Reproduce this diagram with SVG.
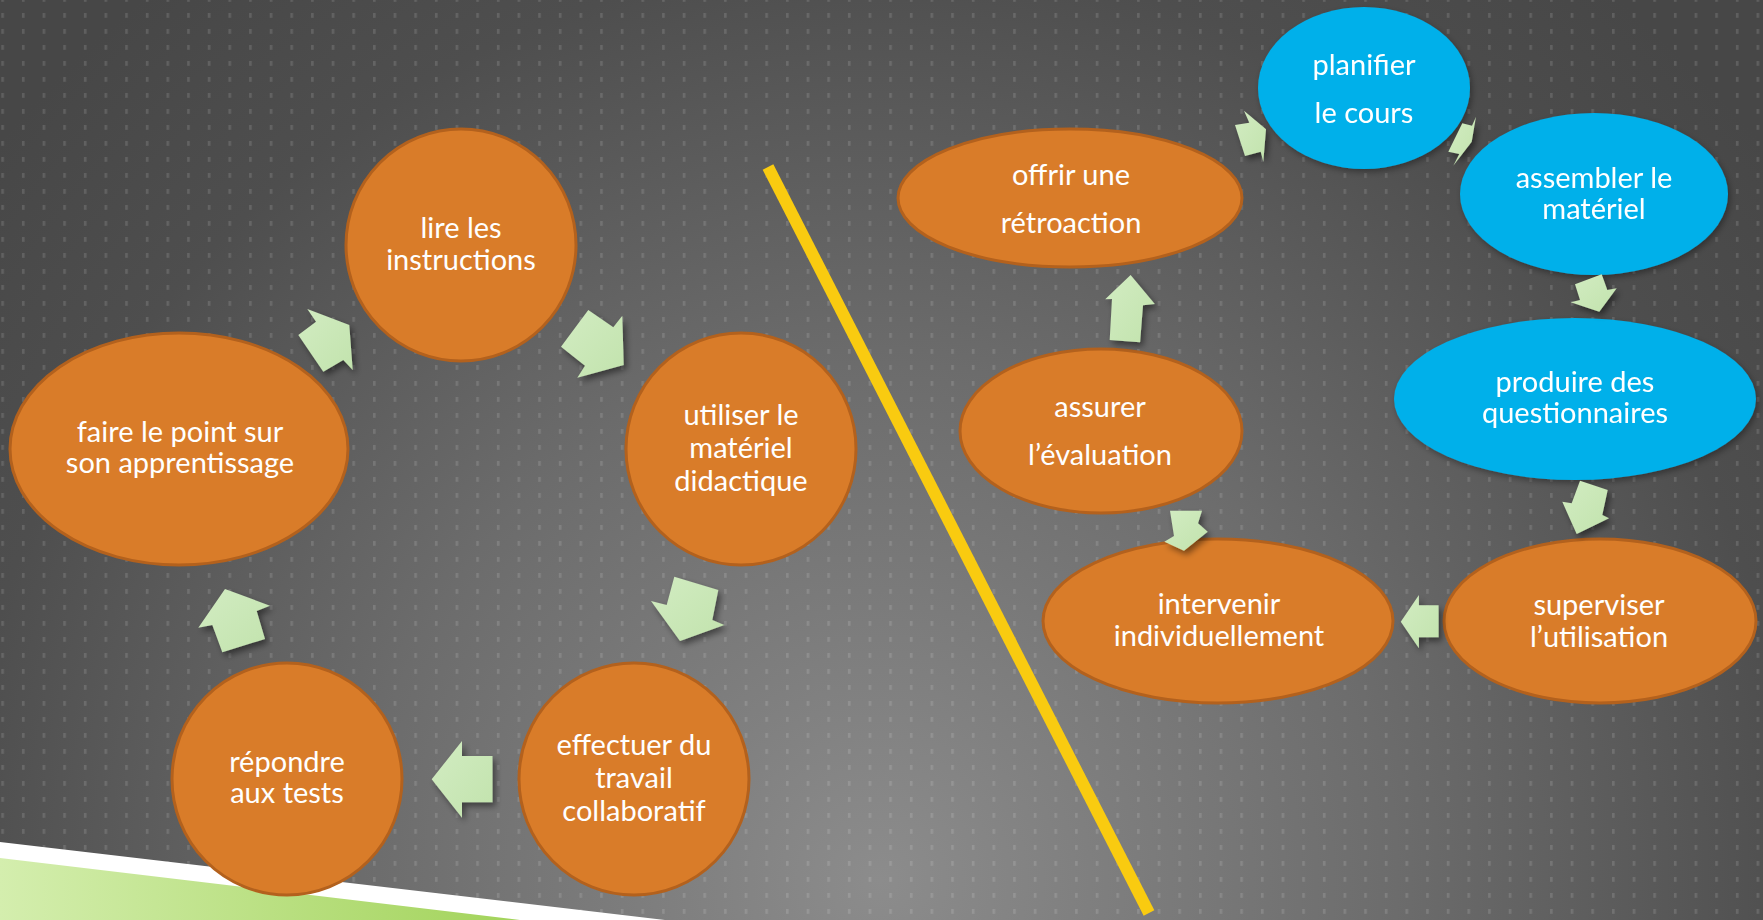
<svg xmlns="http://www.w3.org/2000/svg" width="1763" height="920" viewBox="0 0 1763 920">
<defs>
<radialGradient id="bg" gradientUnits="userSpaceOnUse" cx="880" cy="880" r="1150">
<stop offset="0" stop-color="#8c8c8c"/>
<stop offset="0.45" stop-color="#6c6c6c"/>
<stop offset="0.8" stop-color="#4e4e4e"/>
<stop offset="1" stop-color="#474747"/>
</radialGradient>
<pattern id="dots" patternUnits="userSpaceOnUse" width="20.65" height="16" patternTransform="translate(1.3,13)">
<rect x="0" y="0" width="2.6" height="4.8" fill="#ffffff" fill-opacity="0.13"/>
</pattern>
<linearGradient id="green" gradientUnits="userSpaceOnUse" x1="0" y1="900" x2="520" y2="900">
<stop offset="0" stop-color="#d4eeae"/>
<stop offset="1" stop-color="#a2d35a"/>
</linearGradient>
<linearGradient id="arrowFill" x1="0" y1="0" x2="1" y2="1">
<stop offset="0" stop-color="#d2ecc2"/>
<stop offset="1" stop-color="#c2e3ad"/>
</linearGradient>
<filter id="sh" x="-30%" y="-30%" width="160%" height="160%">
<feDropShadow dx="3" dy="4" stdDeviation="3" flood-color="#000" flood-opacity="0.45"/>
</filter>
<filter id="shs" x="-30%" y="-30%" width="160%" height="160%">
<feDropShadow dx="2" dy="3" stdDeviation="3" flood-color="#000" flood-opacity="0.35"/>
</filter>
</defs>
<style>
.orange { fill: #d97c29; stroke: #b3611d; stroke-width: 3; }
.blue { fill: #00b0ea; }
.arrow { fill: url(#arrowFill); filter: url(#sh); }
text { font-family: "Lato", "Liberation Sans", sans-serif; font-size: 29px; fill: #ffffff; text-anchor: middle; }
</style>

<g id="background">
<rect x="0" y="0" width="1763" height="920" fill="url(#bg)"/>
<rect x="0" y="0" width="1763" height="920" fill="url(#dots)"/>
<polygon points="0,842 665,920 0,920" fill="#ffffff"/>
<polygon points="0,858 520,920 0,920" fill="url(#green)"/>
<line x1="768" y1="167" x2="1149" y2="913" stroke="#f9cb10" stroke-width="12"/>
</g>

<g id="node-lire">
<ellipse class="orange" cx="461" cy="245" rx="115" ry="116"/>
<text x="461" y="238">lire les</text>
<text x="461" y="270">instructions</text>
</g>
<g id="node-utiliser">
<ellipse class="orange" cx="741" cy="449" rx="115" ry="116"/>
<text x="741" y="425">utiliser le</text>
<text x="741" y="458">matériel</text>
<text x="741" y="491">didactique</text>
</g>
<g id="node-effectuer">
<ellipse class="orange" cx="634" cy="779" rx="115" ry="116"/>
<text x="634" y="755">effectuer du</text>
<text x="634" y="788">travail</text>
<text x="634" y="821">collaboratif</text>
</g>
<g id="node-repondre">
<ellipse class="orange" cx="287" cy="779" rx="115" ry="116"/>
<text x="287" y="772">répondre</text>
<text x="287" y="803">aux tests</text>
</g>
<g id="node-faire">
<ellipse class="orange" cx="179" cy="449" rx="169" ry="116"/>
<text x="180" y="442">faire le point sur</text>
<text x="180" y="473">son apprentissage</text>
</g>

<g id="node-planifier" filter="url(#shs)">
<ellipse class="blue" cx="1364" cy="88" rx="106" ry="81"/>
<text x="1364" y="75">planifier</text>
<text x="1364" y="123">le cours</text>
</g>
<g id="node-assembler" filter="url(#shs)">
<ellipse class="blue" cx="1594" cy="194" rx="134" ry="81"/>
<text x="1594" y="188">assembler le</text>
<text x="1594" y="219">matériel</text>
</g>
<g id="node-produire" filter="url(#shs)">
<ellipse class="blue" cx="1575" cy="399" rx="181" ry="81"/>
<text x="1575" y="392">produire des</text>
<text x="1575" y="423">questionnaires</text>
</g>
<g id="node-superviser">
<ellipse class="orange" cx="1600" cy="621" rx="156" ry="82"/>
<text x="1599" y="615">superviser</text>
<text x="1599" y="647">l’utilisation</text>
</g>
<g id="node-intervenir">
<ellipse class="orange" cx="1218" cy="621" rx="175" ry="82"/>
<text x="1219" y="614">intervenir</text>
<text x="1219" y="646">individuellement</text>
</g>
<g id="node-assurer">
<ellipse class="orange" cx="1101" cy="431" rx="141" ry="82"/>
<text x="1100" y="417">assurer</text>
<text x="1100" y="465">l’évaluation</text>
</g>
<g id="node-offrir">
<ellipse class="orange" cx="1070" cy="198" rx="172" ry="69"/>
<text x="1071" y="185">offrir une</text>
<text x="1071" y="233">rétroaction</text>
</g>

<g id="connectors">
<polygon class="arrow" points="307.3,309 316,321.7 298.3,335 323.3,371.7 343.3,360 352.7,370 349.3,325"/>
<polygon class="arrow" points="588.3,310 613.3,327.3 622.3,315.7 623.7,365 577.3,377.7 585,365.7 561,346.7"/>
<polygon class="arrow" points="674.3,576.7 718.3,590 712.3,620 724.3,625 680,641 651,601 666.7,605"/>
<polygon class="arrow" points="431.7,779.3 462,741 462,756 492.5,756 492.5,802.3 462,802.3 462,817.7"/>
<polygon class="arrow" points="225,589 270,605.7 256.7,611 265,639 222.3,652.3 212.3,625 198.3,627.7"/>
<polygon class="arrow" points="1244,110.7 1266,129.3 1263.3,161.7 1260.7,151.7 1245,156 1235,125 1249.3,122.7"/>
<polygon class="arrow" points="1476,116.7 1471.7,141.7 1453.3,165.7 1459.3,154 1448.3,151.7 1462.3,123.3 1472,125.7"/>
<polygon class="arrow" points="1575,284.3 1601.7,274.3 1607.3,290 1616.7,288.3 1599.3,311.7 1570.7,302.3 1580,300"/>
<polygon class="arrow" points="1580,480.7 1607.7,490 1602.3,515 1609,518.3 1576.7,534 1562.3,501.7 1571.7,503.3"/>
<polygon class="arrow" points="1400.8,621.7 1418.9,595 1418.9,605.3 1438.6,605.3 1438.6,637.3 1418.9,637.3 1418.9,648.3"/>
<polygon class="arrow" points="1170,510.7 1202,510.7 1198,523.3 1207.7,531.7 1184,550.7 1164.3,541.7 1174,536"/>
<polygon class="arrow" points="1130.6,275 1105.2,299.3 1112,299 1109.7,340 1140.1,342.3 1143,305.3 1154.8,304"/>
</g>
</svg>
